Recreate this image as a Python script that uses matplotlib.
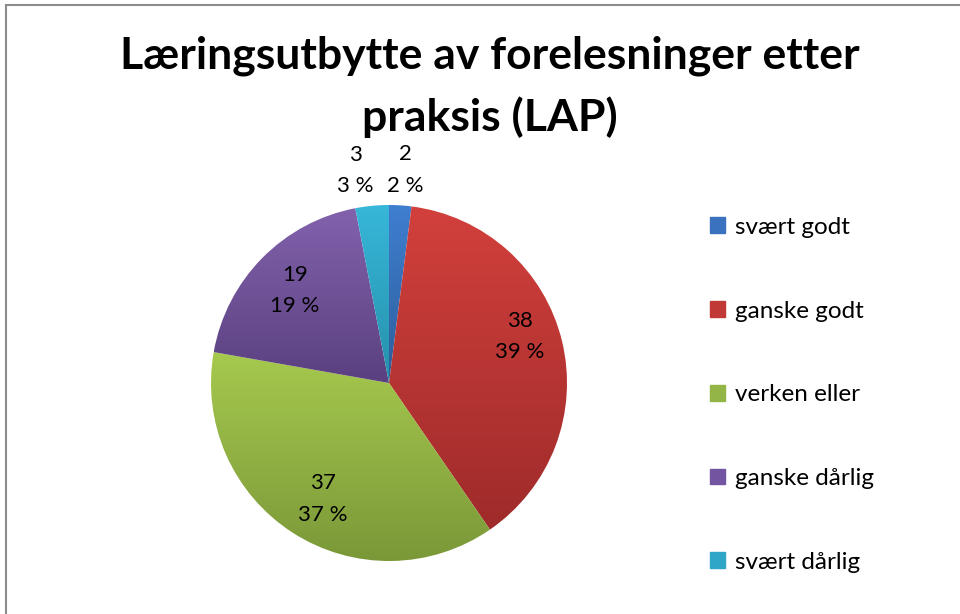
import numpy as np
import matplotlib.pyplot as plt
from matplotlib.colors import LinearSegmentedColormap
from matplotlib.patches import Rectangle

# Data
categories = ['svært godt', 'ganske godt', 'verken eller', 'ganske dårlig', 'svært dårlig']
values = [2, 38, 37, 19, 3]
pct_labels = ['2 %', '39 %', '37 %', '19 %', '3 %']

# light (top) / dark (bottom) colours for the Excel-style gradient
top_colors = ['#3f7fd0', '#d2403c', '#a6c94e', '#8262ac', '#37b7d9']
bottom_colors = ['#2d5d9a', '#9e2b2a', '#7b9838', '#5a4080', '#2690ab']
legend_colors = ['#3a72bf', '#c03936', '#93b545', '#7254a0', '#2fa6c8']

plt.rcParams['font.family'] = ['Lato', 'DejaVu Sans']

W, H = 960, 614
fig = plt.figure(figsize=(W / 100, H / 100), dpi=100)

# chart border (runs off the right/bottom edge like the screenshot)
fig.patches.append(Rectangle((6 / W, -0.1), 1.2, 1 - 5 / H + 0.1,
                             transform=fig.transFigure, fill=False,
                             edgecolor='#8c8c8c', linewidth=1.5))

fig.text(490 / W, 1 - 87 / H, 'Læringsutbytte av forelesninger etter\npraksis (LAP)',
         ha='center', va='center', fontsize=32, fontweight='bold',
         linespacing=1.6)

# pie axes: centre (389, 383) px, radius 178 px
cx, cy, r = 389, 383, 178
ax = fig.add_axes([(cx - r) / W, (H - cy - r) / H, 2 * r / W, 2 * r / H])
wedges, _ = ax.pie(values, startangle=90, counterclock=False, radius=1,
                   colors=legend_colors, labels=None)

for w, c1, c2 in zip(wedges, top_colors, bottom_colors):
    w.set_facecolor('none')
    w.set_edgecolor('none')
    ext = w.get_path().get_extents().transformed(w.get_patch_transform())
    cmap = LinearSegmentedColormap.from_list('g', [c2, c1])
    grad = np.linspace(0, 1, 256).reshape(-1, 1)
    im = ax.imshow(grad, cmap=cmap, origin='lower', aspect='auto',
                   extent=[ext.x0, ext.x1, ext.y0, ext.y1], zorder=1)
    im.set_clip_path(w)
ax.set_xlim(-1, 1)
ax.set_ylim(-1, 1)
ax.axis('off')

# data labels: value on first line, percentage below
dist = [1.2, 0.78, 0.75, 0.74, 1.21]
shift = [-0.7, 6, 3, 0, 3.5]  # degrees nudge like Excel best-fit
for w, v, p, d, s in zip(wedges, values, pct_labels, dist, shift):
    ang = np.deg2rad((w.theta1 + w.theta2) / 2 + s)
    ax.text(d * np.cos(ang), d * np.sin(ang), f'{v}\n{p}', ha='center',
            va='center', fontsize=16, linespacing=1.7, color='#000000',
            zorder=5)

handles = [Rectangle((0, 0), 1, 1, color=c) for c in legend_colors]
fig.legend(handles, categories, loc='upper left',
           bbox_to_anchor=(688 / W, 1 - 195 / H), frameon=False,
           fontsize=17.5, handlelength=0.62, handleheight=0.62,
           handletextpad=0.4, labelspacing=2.58)

fig.savefig('out.png', dpi=100)
